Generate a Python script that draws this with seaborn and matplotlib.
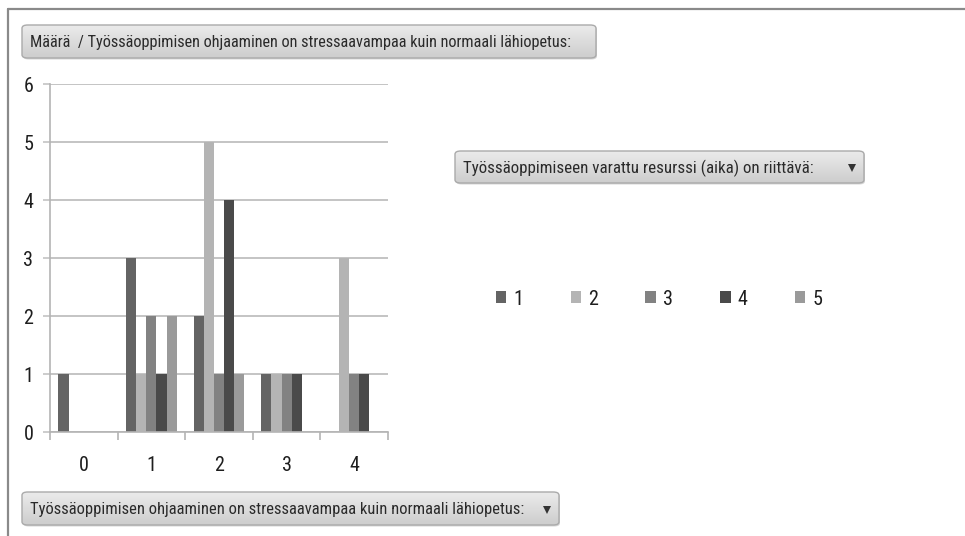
import numpy as np
import pandas as pd
import matplotlib
matplotlib.use("Agg")
import matplotlib.pyplot as plt
from matplotlib import font_manager as fm
from matplotlib.patches import FancyBboxPatch, Patch
from matplotlib.lines import Line2D
import seaborn as sns

# Answers to "Työssäoppimisen ohjaaminen on stressaavampaa kuin normaali lähiopetus:"
categories = ["0", "1", "2", "3", "4"]
# Counts split by "Työssäoppimiseen varattu resurssi (aika) on riittävä:" answers 1..5
series_names = ["1", "2", "3", "4", "5"]
s1 = [1, 3, 2, 1, 0]
s2 = [0, 1, 5, 1, 3]
s3 = [0, 2, 1, 1, 1]
s4 = [0, 1, 4, 1, 1]
s5 = [0, 2, 1, 0, 0]
series_values = [s1, s2, s3, s4, s5]
y_ticks = [0, 1, 2, 3, 4, 5, 6]

title_text = "Määrä  / Työssäoppimisen ohjaaminen on stressaavampaa kuin normaali lähiopetus:"
series_field = "Työssäoppimiseen varattu resurssi (aika) on riittävä:"
axis_field = "Työssäoppimisen ohjaaminen on stressaavampaa kuin normaali lähiopetus:"

colors = ["#646464", "#b4b4b4", "#828282", "#4a4a4a", "#9a9a9a"]

rows = []
for name, vals in zip(series_names, series_values):
    for cat, v in zip(categories, vals):
        rows.append({"x": cat, "v": v, "s": name})
df = pd.DataFrame(rows)

sns.set_theme(style="white")


def pick_narrow_font():
    """Prefer a regular-weight condensed sans face if one is installed."""
    wanted = ("condensed", "semi-condensed", "extra-condensed")
    best = None
    for f in fm.fontManager.ttflist:
        name = f.name
        stretch = str(f.stretch).lower()
        if not ("Narrow" in name or "Condensed" in name or stretch in wanted):
            continue
        if f.style != "normal":
            continue
        if str(f.weight) not in ("400", "normal", "regular", "book"):
            continue
        if "Mono" in name or "Serif" in name:
            continue
        best = f
        if "Liberation" in name or "Roboto" in name:
            break
    return best


narrow = pick_narrow_font()
if narrow is not None:
    def fprops(size):
        return fm.FontProperties(fname=narrow.fname, size=size)
else:
    def fprops(size):
        return fm.FontProperties(family="DejaVu Sans", size=size)

W, H = 965, 536
fig = plt.figure(figsize=(W / 100, H / 100), dpi=100)
fig.patch.set_facecolor("white")
renderer = fig.canvas.get_renderer()


def fx(px):
    return px / W


def fy(py):
    return 1 - py / H


# plot area in pixel coordinates
left, right, top, bottom = 50, 388, 84, 432
ax = fig.add_axes([fx(left), fy(bottom), fx(right - left), (bottom - top) / H])

sns.barplot(data=df, x="x", y="v", hue="s", palette=colors, width=0.75,
            gap=0, saturation=1, linewidth=0, ax=ax, legend=True,
            errorbar=None, order=categories, hue_order=series_names)

ax.get_legend().remove()

ax.set_ylim(0, 6)
ax.set_xlim(-0.5, 4.5)
ax.set_yticks(y_ticks)
ax.set_yticklabels([str(t) for t in y_ticks])
ax.set_xlabel("")
ax.set_ylabel("")
ax.yaxis.grid(True, color="#c4c4c4", linewidth=1.4)
ax.set_axisbelow(True)
for side in ["top", "right"]:
    ax.spines[side].set_visible(False)
for side in ["left", "bottom"]:
    ax.spines[side].set_color("#b4b4b4")
    ax.spines[side].set_linewidth(1.2)

ax.set_xticks(np.arange(-0.5, 5.0, 1.0), minor=True)
ax.tick_params(axis="x", which="major", length=0, pad=17,
               labelcolor="#1e1e1e")
ax.tick_params(axis="x", which="minor", length=6, width=1.2, color="#b4b4b4",
               direction="out", bottom=True)
ax.tick_params(axis="y", which="major", length=5, width=1.2, color="#c4c4c4",
               direction="out", pad=7, labelcolor="#1e1e1e", left=True)
for lab in ax.get_xticklabels() + ax.get_yticklabels():
    lab.set_fontproperties(fprops(14.5))

# legend of the series field
leg_handles = [Patch(facecolor=c, edgecolor="none") for c in colors]
fig.legend(leg_handles, series_names, loc="center",
           bbox_to_anchor=(fx(659), fy(299)), ncol=5, frameon=False,
           handlelength=0.52, handleheight=0.52, handletextpad=0.35,
           columnspacing=2.35, prop=fprops(14.5), labelcolor="#1e1e1e")

# outer frame lines
fig.add_artist(Line2D([fx(8), 1], [fy(9), fy(9)], color="#8a8a8a", linewidth=1.6))
fig.add_artist(Line2D([fx(8), fx(8)], [0, fy(9)], color="#8a8a8a", linewidth=1.6))


def fitted_text(x, y, text, target_w, max_size=14, **kw):
    """Place text and shrink it until it spans at most target_w pixels."""
    t = fig.text(x, y, text, fontproperties=fprops(max_size), **kw)
    w = t.get_window_extent(renderer=renderer).width
    if w > target_w:
        t.set_fontproperties(fprops(max_size * target_w / w))
    return t


def field_button(x0, y0, x1, y1, text, text_w, arrow=False):
    """Rounded grey field button with a vertical gradient."""
    bx = fx(x0)
    by = fy(y1)
    bw = fx(x1 - x0)
    bh = (y1 - y0) / H
    shadow = FancyBboxPatch((bx + fx(1), by - 1.5 / H), bw, bh,
                            boxstyle="round,pad=0,rounding_size=0.006",
                            transform=fig.transFigure, facecolor="#d6d6d6",
                            edgecolor="none", zorder=1)
    fig.add_artist(shadow)
    bax = fig.add_axes([bx, by, bw, bh], zorder=2)
    bax.set_axis_off()
    bax.set_xlim(0, x1 - x0)
    bax.set_ylim(y1 - y0, 0)
    grad = np.linspace(0, 1, 64).reshape(-1, 1)
    cmap = matplotlib.colors.LinearSegmentedColormap.from_list(
        "btn", ["#ebebeb", "#cdcdcd"])
    im = bax.imshow(grad, aspect="auto", cmap=cmap,
                    extent=[0, x1 - x0, y1 - y0, 0], zorder=1)
    clip = FancyBboxPatch((bx, by), bw, bh,
                          boxstyle="round,pad=0,rounding_size=0.006",
                          transform=fig.transFigure, facecolor="none",
                          edgecolor="none")
    im.set_clip_path(clip)
    if arrow:
        # drop-down triangle near the right end of the button
        bax.plot([x1 - x0 - 12], [(y1 - y0) / 2 + 1], marker="v",
                 markersize=5.5, color="#333333", markeredgewidth=0,
                 linestyle="none", zorder=5, clip_on=False)
    box = FancyBboxPatch((bx, by), bw, bh,
                         boxstyle="round,pad=0,rounding_size=0.006",
                         transform=fig.transFigure, facecolor="none",
                         edgecolor="#aaaaaa", linewidth=1.0, zorder=5)
    fig.add_artist(box)
    fitted_text(fx(x0 + 8), fy((y0 + y1) / 2 + 1), text, text_w,
                ha="left", va="center", color="#2a2a2a", zorder=6)


field_button(22, 25, 596, 58, title_text, 545)
field_button(455, 151, 864, 183, series_field, 353, arrow=True)
field_button(22, 492, 559, 525, axis_field, 494, arrow=True)

fig.savefig("out.png", dpi=100, facecolor="white")
